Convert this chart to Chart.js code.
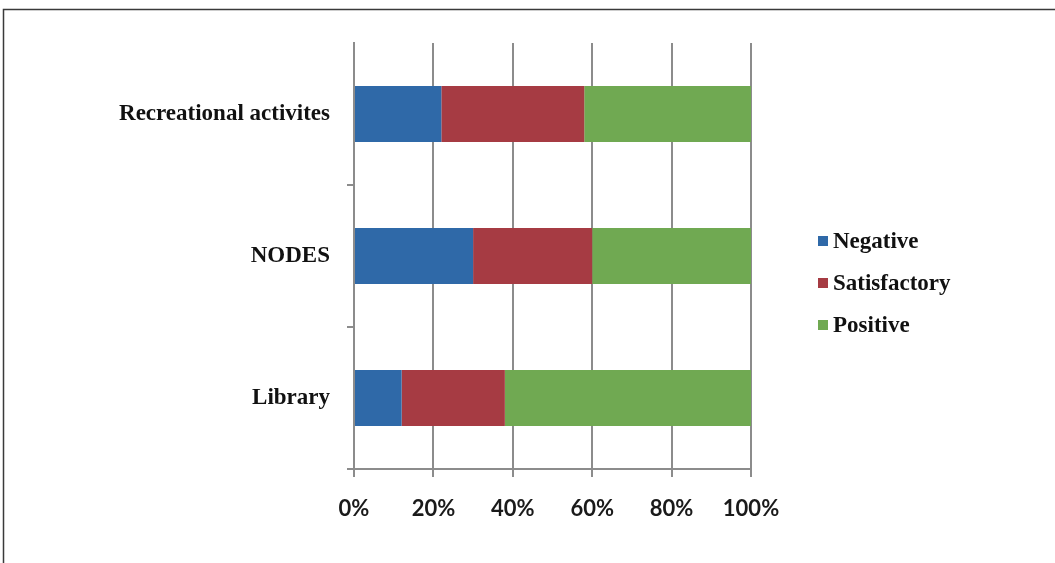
<!DOCTYPE html>
<html>
<head>
<meta charset="utf-8">
<script src="https://cdn.jsdelivr.net/npm/chart.js@4.4.1/dist/chart.umd.min.js"></script>
<style>
  html, body { margin: 0; padding: 0; background: #fff; }
  #wrap { position: relative; width: 1055px; height: 563px; }
</style>
</head>
<body>
<div id="wrap"><canvas id="c" width="1055" height="563"></canvas></div>
<script>
// Share of responses (%) per service
const categories = ['Recreational activites', 'NODES', 'Library'];
const negative     = [22, 30, 12];
const satisfactory = [36, 30, 26];
const positive     = [42, 40, 62];
const seriesNames  = ['Negative', 'Satisfactory', 'Positive'];
const tickLabels   = ['0%', '20%', '40%', '60%', '80%', '100%'];

const colors = ['#2f69a8', '#a63b43', '#70a952'];
const serifFont = '"Liberation Serif", "Times New Roman", serif';

// Thin frame along the top and left edges
const framePlugin = {
  id: 'frame',
  beforeDraw(chart) {
    const ctx = chart.ctx;
    ctx.save();
    ctx.fillStyle = '#fff';
    ctx.fillRect(0, 0, chart.width, chart.height);
    ctx.strokeStyle = '#3a3a3a';
    ctx.lineWidth = 1.5;
    ctx.beginPath();
    ctx.moveTo(3.5, chart.height);
    ctx.lineTo(3.5, 9.5);
    ctx.lineTo(chart.width, 9.5);
    ctx.stroke();
    ctx.restore();
  }
};

// Legend drawn as a vertical list to the right of the plot
const sideLegend = {
  id: 'sideLegend',
  afterDraw(chart) {
    const ctx = chart.ctx;
    const x = 818, y0 = 241, gap = 42, box = 10;
    ctx.save();
    ctx.font = 'bold 23px ' + serifFont;
    ctx.textBaseline = 'middle';
    ctx.textAlign = 'left';
    chart.data.datasets.forEach((ds, i) => {
      const y = y0 + i * gap;
      ctx.fillStyle = ds.backgroundColor;
      ctx.fillRect(x, y - box / 2, box, box);
      ctx.fillStyle = '#111';
      ctx.fillText(ds.label, x + 15, y + 1);
    });
    ctx.restore();
  }
};

const seriesValues = [negative, satisfactory, positive];

new Chart(document.getElementById('c'), {
  type: 'bar',
  data: {
    labels: categories,
    datasets: seriesValues.map((vals, i) => ({
      label: seriesNames[i],
      data: vals,
      backgroundColor: colors[i],
      borderWidth: 0,
      barPercentage: 0.394,
      categoryPercentage: 1.0
    }))
  },
  options: {
    indexAxis: 'y',
    responsive: false,
    animation: false,
    layout: { padding: { top: 43, right: 304, bottom: 0, left: 0 } },
    plugins: {
      legend: { display: false },
      tooltip: { enabled: false }
    },
    scales: {
      x: {
        stacked: true,
        min: 0,
        max: 100,
        ticks: {
          stepSize: 20,
          padding: 19,
          color: '#1a1a1a',
          font: { family: 'Lato, "Open Sans", sans-serif', size: 22, weight: 'bold' },
          callback: (v, i) => tickLabels[i]
        },
        grid: {
          color: '#8c8c8c',
          lineWidth: 2,
          tickLength: 8,
          tickColor: '#8c8c8c'
        },
        border: { display: true, color: '#8c8c8c', width: 2 },
        afterFit(scale) { scale.height = 94; }
      },
      y: {
        stacked: true,
        ticks: {
          padding: 17,
          color: '#111',
          font: { family: serifFont, size: 23, weight: 'bold' }
        },
        grid: {
          offset: true,
          drawOnChartArea: false,
          drawTicks: true,
          tickLength: 7,
          lineWidth: 2,
          tickColor: (ctx) => ctx.index === 0 ? 'rgba(0,0,0,0)' : '#8c8c8c'
        },
        border: { display: true, color: '#8c8c8c', width: 2 },
        afterFit(scale) { scale.width = 354; }
      }
    }
  },
  plugins: [framePlugin, sideLegend]
});
</script>
</body>
</html>
